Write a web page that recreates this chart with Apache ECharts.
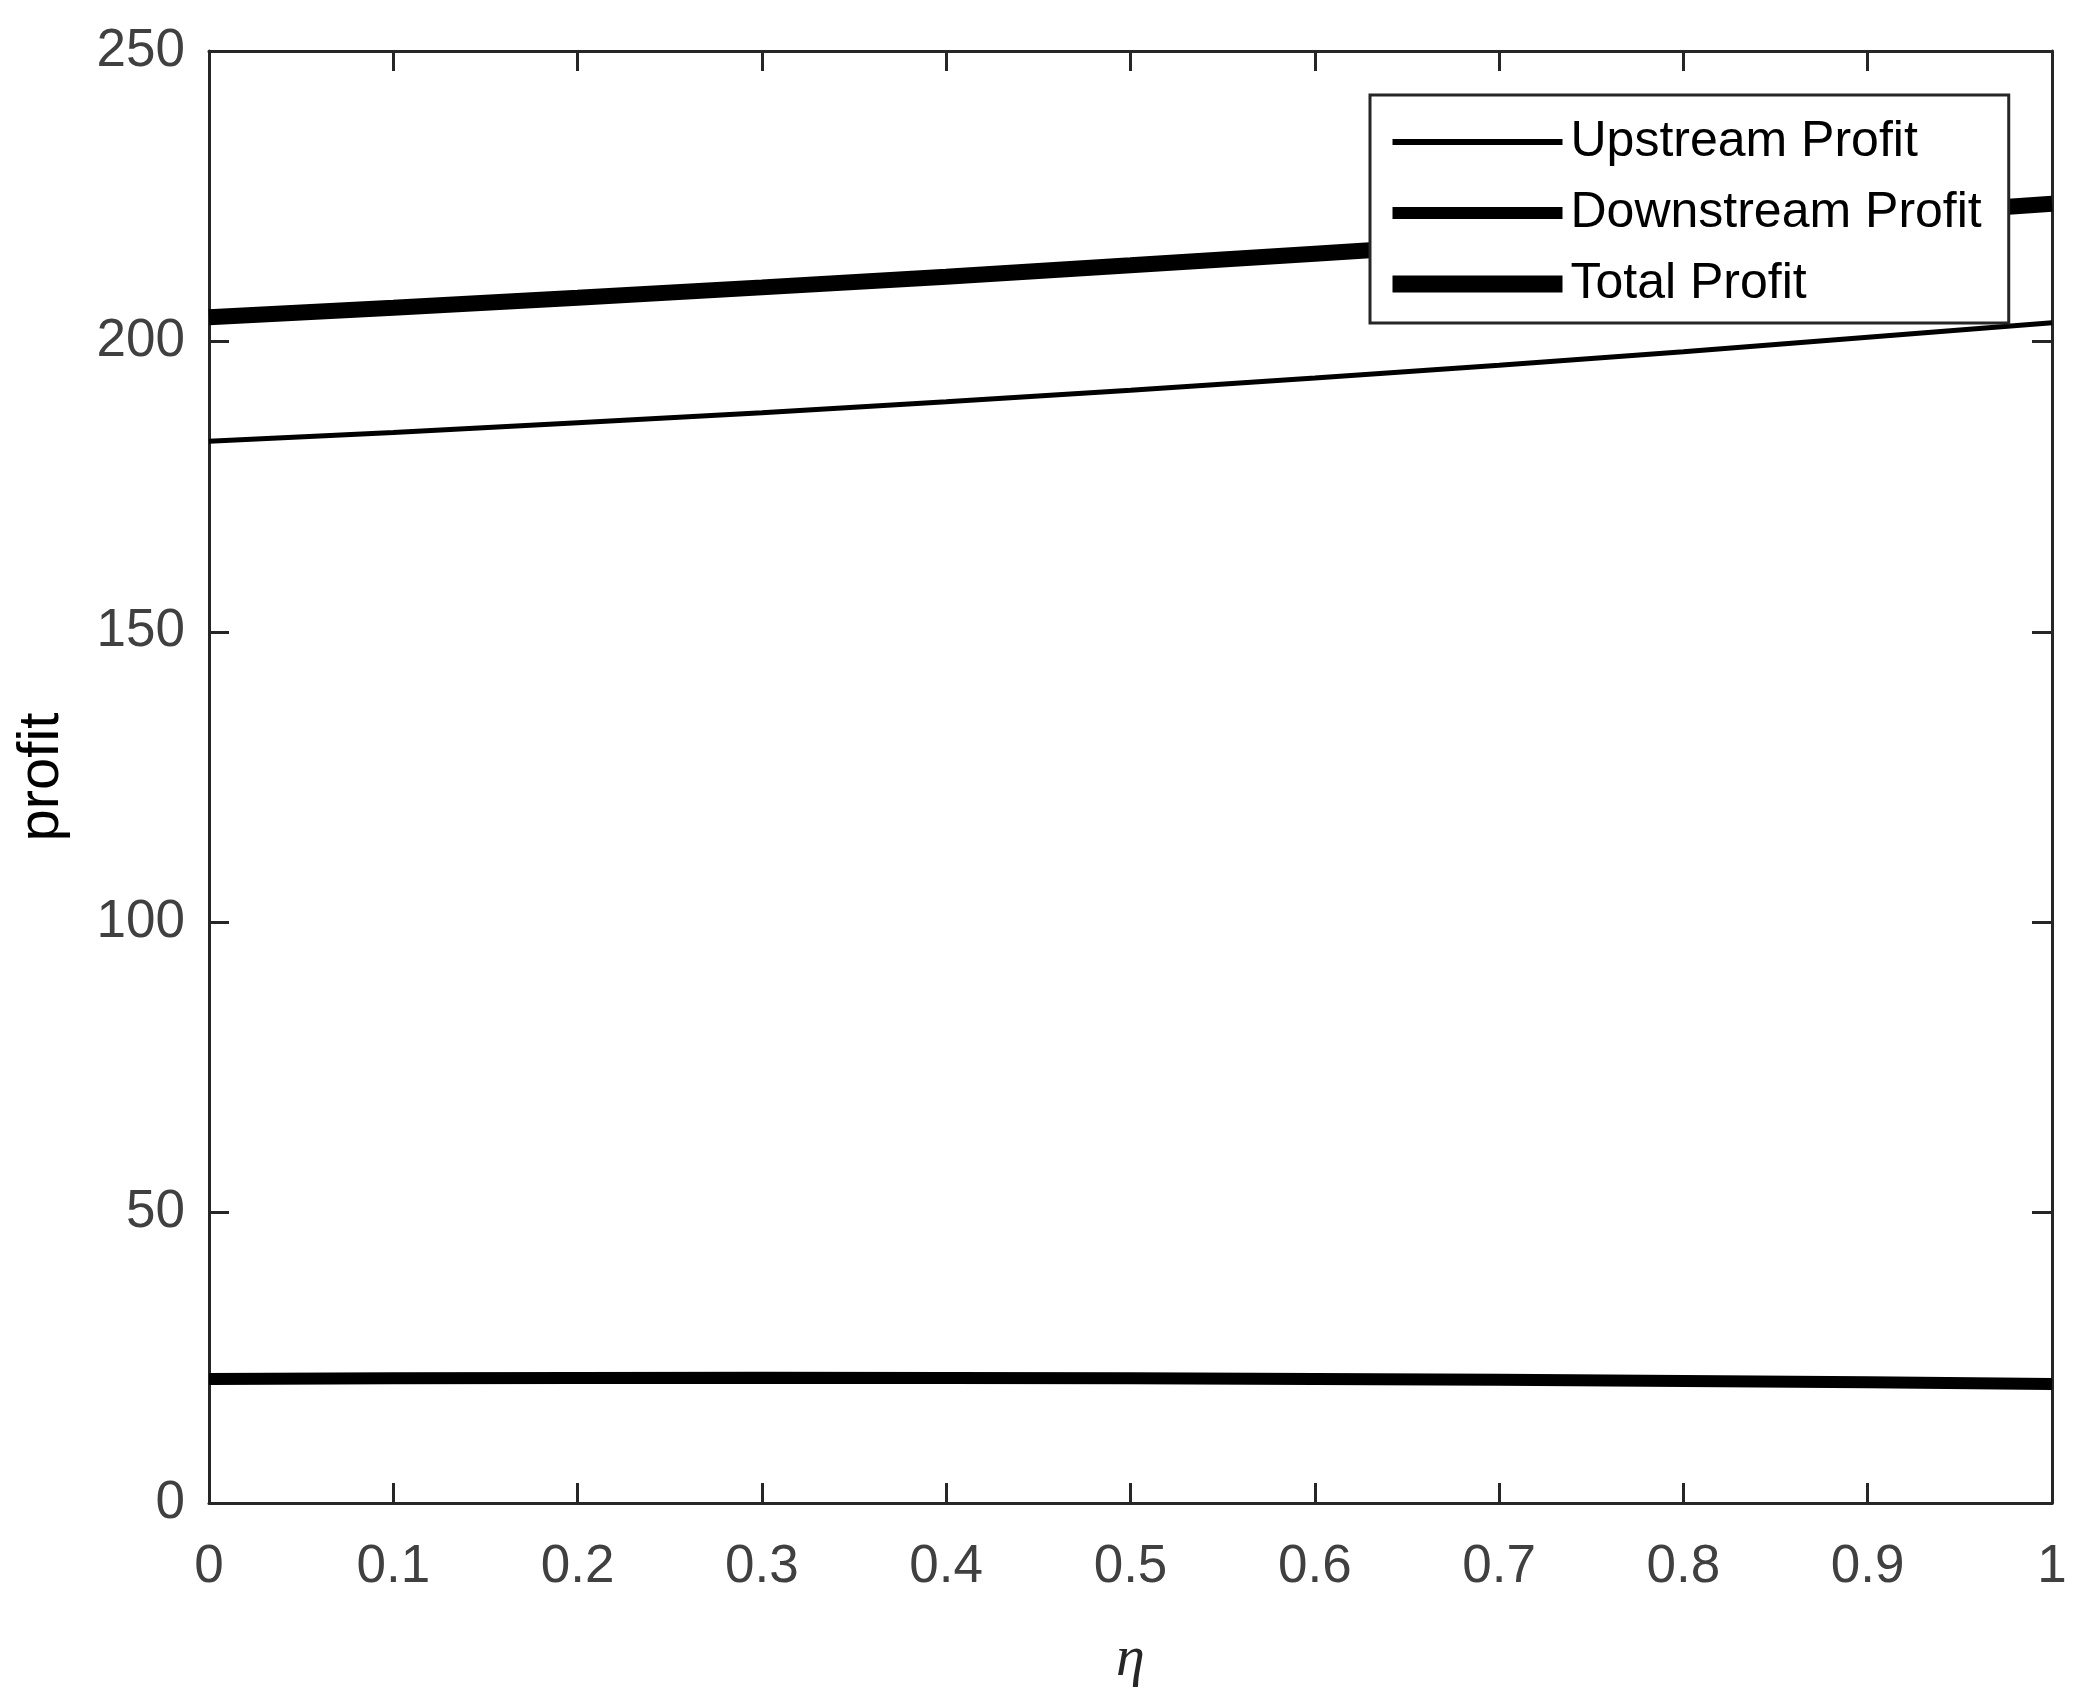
<!DOCTYPE html>
<html>
<head>
<meta charset="utf-8">
<script src="https://cdn.jsdelivr.net/npm/echarts@6/dist/echarts.min.js"></script>
<style>
html,body{margin:0;padding:0;background:#fff;}
#chart{width:2080px;height:1697px;}
</style>
</head>
<body>
<div id="chart"></div>
<script>
var etaValues = [0, 0.1, 0.2, 0.3, 0.4, 0.5, 0.6, 0.7, 0.8, 0.9, 1.0];
var upstreamProfit = [182.8, 184.3, 186.0, 187.7, 189.6, 191.6, 193.7, 195.9, 198.2, 200.7, 203.2];
var downstreamProfit = [21.35, 21.46, 21.53, 21.55, 21.53, 21.47, 21.36, 21.21, 21.02, 20.78, 20.50];
var totalProfit = [204.15, 205.8, 207.5, 209.3, 211.15, 213.1, 215.1, 217.1, 219.2, 221.5, 223.7];
var seriesNames = ['Upstream Profit', 'Downstream Profit', 'Total Profit'];
var xTickLabels = ['0', '0.1', '0.2', '0.3', '0.4', '0.5', '0.6', '0.7', '0.8', '0.9', '1'];
var yTickLabels = ['0', '50', '100', '150', '200', '250'];

function pairs(ys) { return etaValues.map(function (x, i) { return [x, ys[i]]; }); }

var axisColor = '#262626';
var labelColor = '#404040';
var chart = echarts.init(document.getElementById('chart'), null, {renderer: 'canvas'});
var widths = [5, 12, 16];
var legendWidths = [6, 12, 17];

function mkAxis(base) {
  var common = {
    axisLine: {show: true, onZero: false, lineStyle: {color: axisColor, width: 3}},
    axisTick: {show: true, inside: true, length: 20, lineStyle: {color: axisColor, width: 3}},
    splitLine: {show: false}
  };
  for (var k in base) common[k] = base[k];
  return common;
}

chart.setOption({
  animation: false,
  backgroundColor: '#ffffff',
  grid: {left: 209, right: 28, top: 51, bottom: 194, containLabel: false, outerBoundsMode: 'none'},
  xAxis: [mkAxis({
    type: 'value', gridIndex: 0, min: 0, max: 1, interval: 0.1, position: 'bottom',
    name: 'η', nameLocation: 'middle', nameGap: 128,
    nameTextStyle: {fontFamily: 'Liberation Serif', fontStyle: 'italic', fontSize: 58, color: '#262626'},
    axisLabel: {margin: 38, fontSize: 53, fontFamily: 'Liberation Sans', color: labelColor,
      formatter: function (v) { return xTickLabels[Math.round(v * 10)]; }}
  }), mkAxis({
    type: 'value', gridIndex: 0, min: 0, max: 1, interval: 0.1, position: 'top',
    axisLabel: {show: false}
  })],
  yAxis: [mkAxis({
    type: 'value', gridIndex: 0, min: 0, max: 250, interval: 50, position: 'left',
    name: 'profit', nameLocation: 'middle', nameGap: 138, nameRotate: 90,
    nameTextStyle: {fontFamily: 'Liberation Sans', fontSize: 58, color: '#000000'},
    axisLabel: {margin: 24, fontSize: 53, fontFamily: 'Liberation Sans', color: labelColor,
      formatter: function (v) { return yTickLabels[Math.round(v / 50)]; }}
  }), mkAxis({
    type: 'value', gridIndex: 0, min: 0, max: 250, interval: 50, position: 'right',
    axisLabel: {show: false}
  })],
  legend: {
    show: true,
    left: 1370, top: 95, orient: 'vertical',
    backgroundColor: '#ffffff', borderColor: axisColor, borderWidth: 3, borderRadius: 0,
    padding: [22, 27, 14, 14],
    itemWidth: 170, itemHeight: 20, itemGap: 21,
    textStyle: {fontFamily: 'Liberation Sans', fontSize: 50, color: '#000000', lineHeight: 50, padding: [0, 0, 0, 3]},
    data: seriesNames.map(function (n, i) {
      return {name: n, lineStyle: {width: legendWidths[i], color: '#000000'},
        itemStyle: {opacity: 0, borderWidth: 0}};
    })
  },
  series: [
    {name: seriesNames[0], type: 'line', xAxisIndex: 0, yAxisIndex: 0, data: pairs(upstreamProfit), showSymbol: false, symbol: 'none',
      lineStyle: {color: '#000000', width: widths[0]}, itemStyle: {color: '#000000'}, z: 3},
    {name: seriesNames[1], type: 'line', xAxisIndex: 0, yAxisIndex: 0, data: pairs(downstreamProfit), showSymbol: false, symbol: 'none',
      lineStyle: {color: '#000000', width: widths[1]}, itemStyle: {color: '#000000'}, z: 3},
    {name: seriesNames[2], type: 'line', xAxisIndex: 0, yAxisIndex: 0, data: pairs(totalProfit), showSymbol: false, symbol: 'none',
      lineStyle: {color: '#000000', width: widths[2]}, itemStyle: {color: '#000000'}, z: 3}
  ]
});
</script>
</body>
</html>
